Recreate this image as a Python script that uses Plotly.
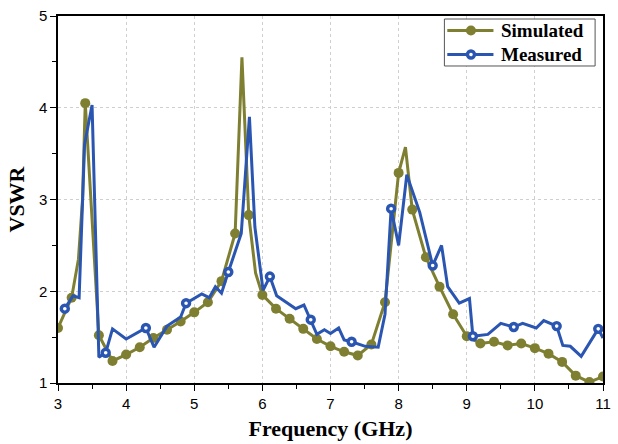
import plotly.graph_objects as go

# Simulated VSWR: samples shown with markers
sim_freq = [3.0, 3.2, 3.4, 3.6, 3.8, 4.0, 4.2, 4.4, 4.6, 4.8, 5.0, 5.2, 5.4, 5.6, 5.8,
            6.0, 6.2, 6.4, 6.6, 6.8, 7.0, 7.2, 7.4, 7.6, 7.8, 8.0, 8.2, 8.4, 8.6, 8.8,
            9.0, 9.2, 9.4, 9.6, 9.8, 10.0, 10.2, 10.4, 10.6, 10.8, 11.0]
sim_vswr = [1.60, 1.93, 4.05, 1.52, 1.24, 1.31, 1.39, 1.49, 1.58, 1.67, 1.77, 1.88, 2.11, 2.63, 2.83,
            1.96, 1.81, 1.70, 1.59, 1.48, 1.40, 1.34, 1.30, 1.42, 1.88, 3.29, 2.89, 2.37, 2.05, 1.75,
            1.51, 1.43, 1.45, 1.41, 1.43, 1.38, 1.32, 1.23, 1.08, 1.01, 1.07]
# Simulated VSWR: additional samples on the curve (no marker)
sim_extra_freq = [3.3, 3.36, 5.7, 5.9, 8.1]
sim_extra_vswr = [2.35, 3.0, 4.55, 2.2, 3.57]

# Measured VSWR: samples shown with markers
meas_freq = [3.10, 3.70, 4.29, 4.88, 5.50, 6.11, 6.71, 7.31, 7.89, 8.50, 9.09, 9.69, 10.32, 10.93]
meas_vswr = [1.81, 1.33, 1.60, 1.87, 2.21, 2.16, 1.69, 1.45, 2.90, 2.28, 1.51, 1.61, 1.62, 1.59]
# Measured VSWR: additional samples on the curve (no marker)
meas_extra_freq = [3.22, 3.31, 3.39, 3.50, 3.60, 3.80, 4.00, 4.41, 4.60, 4.80, 5.11, 5.22, 5.31,
                   5.40, 5.69, 5.81, 5.89, 6.01, 6.21, 6.49, 6.61, 6.80, 6.91, 7.00, 7.12, 7.20,
                   7.51, 7.70, 7.80, 8.00, 8.12, 8.31, 8.63, 8.72, 8.89, 9.04, 9.31, 9.50, 9.82,
                   10.02, 10.13, 10.41, 10.52, 10.68, 11.00]
meas_extra_vswr = [1.95, 1.93, 3.60, 4.03, 1.28, 1.59, 1.48, 1.39, 1.62, 1.72, 1.97, 1.93, 2.05,
                   1.98, 2.63, 3.90, 2.70, 2.01, 1.95, 1.81, 1.85, 1.53, 1.58, 1.54, 1.60, 1.47,
                   1.40, 1.39, 1.75, 2.50, 3.27, 2.86, 2.50, 2.05, 1.87, 1.92, 1.53, 1.65, 1.65,
                   1.60, 1.68, 1.41, 1.40, 1.29, 1.49]

series_names = ["Simulated", "Measured"]
x_ticks = [3, 4, 5, 6, 7, 8, 9, 10, 11]
y_ticks = [1, 2, 3, 4, 5]

OLIVE = "#7f7f32"
BLUE = "#2a56b2"
SERIF = "Liberation Serif, Times New Roman, serif"


def merged(f1, v1, f2, v2):
    pts = sorted(zip(list(f1) + list(f2), list(v1) + list(v2)))
    return [p[0] for p in pts], [p[1] for p in pts]


sim_x, sim_y = merged(sim_freq, sim_vswr, sim_extra_freq, sim_extra_vswr)
meas_x, meas_y = merged(meas_freq, meas_vswr, meas_extra_freq, meas_extra_vswr)

sim_marker = dict(symbol="circle", size=10, color=OLIVE, line=dict(width=0))
meas_marker = dict(symbol="circle", size=7, color="white", line=dict(width=3.4, color=BLUE))

fig = go.Figure()

# Simulated curve + markers
fig.add_trace(go.Scatter(x=sim_x, y=sim_y, mode="lines", line=dict(color=OLIVE, width=3),
                         name=series_names[0], showlegend=False, hoverinfo="skip"))
fig.add_trace(go.Scatter(x=sim_freq, y=sim_vswr, mode="markers", marker=sim_marker,
                         name=series_names[0], showlegend=False))

# Measured curve + markers
fig.add_trace(go.Scatter(x=meas_x, y=meas_y, mode="lines", line=dict(color=BLUE, width=3),
                         name=series_names[1], showlegend=False, hoverinfo="skip"))
fig.add_trace(go.Scatter(x=meas_freq, y=meas_vswr, mode="markers", marker=meas_marker,
                         name=series_names[1], showlegend=False))

axis_common = dict(
    showline=True, linecolor="black", linewidth=1.5, mirror=True,
    ticks="outside", ticklen=6, tickwidth=1.2, tickcolor="black",
    showgrid=True, gridcolor="#cfcfcf", griddash="dot", gridwidth=1,
    zeroline=False,
    tickfont=dict(family="Liberation Sans, Arial, sans-serif", size=15, color="black"),
)

fig.update_xaxes(
    range=[3, 11], tickmode="array", tickvals=x_ticks, ticktext=[str(v) for v in x_ticks],
    title=dict(text="<b>Frequency (GHz)</b>", standoff=10,
               font=dict(family=SERIF, size=22, color="black")),
    minor=dict(dtick=0.5, tick0=3, ticks="outside", ticklen=4, tickcolor="black", showgrid=False),
    **axis_common,
)
fig.update_yaxes(
    range=[1, 5], tickmode="array", tickvals=y_ticks, ticktext=[str(v) for v in y_ticks],
    title=dict(text="<b>VSWR</b>", standoff=8,
               font=dict(family=SERIF, size=22, color="black")),
    minor=dict(dtick=0.5, tick0=1, ticks="outside", ticklen=4, tickcolor="black", showgrid=False),
    **axis_common,
)

# Legend box drawn in paper coordinates
shapes = [dict(type="rect", xref="paper", yref="paper", x0=0.709, x1=0.9855, y0=0.8638, y1=0.9918,
               line=dict(color="#555555", width=1), fillcolor="white", layer="above")]
annotations = []
legend_rows = [(0.9605, OLIVE, sim_marker), (0.8951, BLUE, meas_marker)]
for name, (ry, col, mk) in zip(series_names, legend_rows):
    shapes.append(dict(type="line", xref="paper", yref="paper", x0=0.7143, x1=0.799, y0=ry, y1=ry,
                       line=dict(color=col, width=3), layer="above"))
    if mk is sim_marker:
        shapes.append(dict(type="circle", xref="paper", yref="paper", xsizemode="pixel",
                           ysizemode="pixel", xanchor=0.7577, yanchor=ry, x0=-5, x1=5, y0=-5, y1=5,
                           fillcolor=OLIVE, line=dict(width=0), layer="above"))
    else:
        shapes.append(dict(type="circle", xref="paper", yref="paper", xsizemode="pixel",
                           ysizemode="pixel", xanchor=0.7577, yanchor=ry, x0=-3.5, x1=3.5,
                           y0=-3.5, y1=3.5, fillcolor="white", line=dict(width=3.4, color=BLUE),
                           layer="above"))
    annotations.append(dict(text=f"<b>{name}</b>", xref="paper", yref="paper", x=0.8083, y=ry,
                            xanchor="left", yanchor="middle", showarrow=False,
                            font=dict(family=SERIF, size=19, color="black")))

fig.update_layout(
    width=618, height=444,
    margin=dict(l=58, r=7, t=16, b=61),
    plot_bgcolor="white", paper_bgcolor="white",
    showlegend=False,
    shapes=shapes,
    annotations=annotations,
)

fig.write_html("out.html")
